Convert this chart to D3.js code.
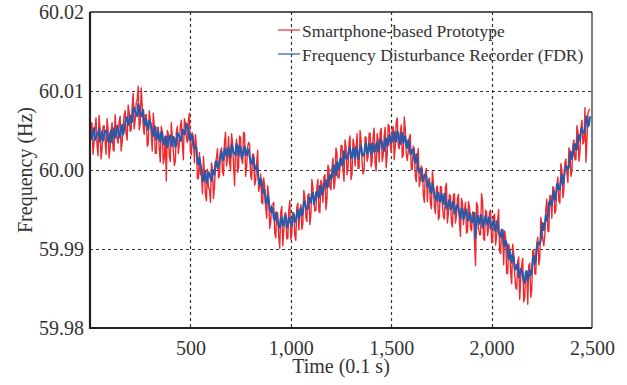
<!DOCTYPE html>
<html>
<head>
<meta charset="utf-8">
<script src="https://cdn.jsdelivr.net/npm/d3@7"></script>
<style>
html,body{margin:0;padding:0;background:#fff;}
svg{display:block;}
text{font-family:"Liberation Serif","Times New Roman",serif;fill:#333;}
</style>
</head>
<body>
<svg id="chart" width="627" height="385"></svg>
<script>
// ---- data ----
const sampleStep = 5; // time between plotted samples, in 0.1 s
const xTicks = [500, 1000, 1500, 2000, 2500];
const xTickLabels = ["500", "1,000", "1,500", "2,000", "2,500"];
const yTicks = [59.98, 59.99, 60.00, 60.01, 60.02];
const yTickLabels = ["59.98", "59.99", "60.00", "60.01", "60.02"];
const seriesNames = ["Smartphone-based Prototype", "Frequency Disturbance Recorder (FDR)"];

const prototypeHz = [
60.0024,60.006,60.0059,60.002,60.0034,60.0052,60.0066,60.0032,60.0018,60.0069,
60.0052,60.0014,60.0027,60.0055,60.0056,60.0038,60.002,60.0065,60.0052,60.0015,
60.0028,60.0049,60.006,60.0026,60.0024,60.007,60.0052,60.0039,60.0034,60.0061,
60.0068,60.0024,60.0035,60.0055,60.0069,60.0075,60.0046,60.0038,60.0082,60.0073,
60.0049,60.0051,60.008,60.0097,60.0052,60.0063,60.0085,60.0089,60.0106,60.0051,
60.0058,60.0104,60.0081,60.0055,60.0045,60.007,60.007,60.003,60.0033,60.0075,
60.0064,60.0047,60.0024,60.0072,60.0056,60.0021,60.0021,60.0054,60.0054,60.0026,
60.001,60.0055,60.0049,60.0008,60.0015,60.0043,59.9986,60.005,60.0046,60.0017,
60.0011,60.006,60.0042,60.0025,60.0006,60.0011,60.0048,60.0055,60.0021,60.0034,
60.0056,60.0063,60.0032,60.0013,60.0065,60.0059,60.004,60.0035,60.0062,60.0072,
60.0023,60.0019,60.0047,60.004,60.0009,60.0045,60.0031,59.9989,59.9989,60.0022,
59.9994,59.9994,59.997,60.0017,59.9995,59.9968,59.9961,60.0001,59.9978,59.9975,
59.9959,60.0009,60.0002,59.9964,59.9979,60.0009,60.0016,60.0027,59.999,59.9993,
60.0024,60.0028,59.9997,59.9993,60.0036,60.0048,60.0005,60.0014,60.0042,60.001,
59.9999,60.0046,60.0034,60.0005,59.998,60.0029,60.0039,59.9997,60.0003,60.0043,
60.0041,60.0014,60.0008,60.0048,60.0046,59.9992,60.0004,60.0029,60.0035,60.0032,
59.9993,59.9988,60.002,60.002,59.9981,59.9986,60.0009,60.0025,59.9973,59.9979,
59.9995,59.9959,59.9957,59.999,59.9978,59.9953,59.9939,59.998,59.9968,59.9926,
59.9934,59.9955,59.9956,59.9959,59.992,59.9914,59.9947,59.9945,59.9915,59.9901,
59.9947,59.9954,59.9904,59.9923,59.9944,59.9946,59.9913,59.9913,59.9949,59.9961,
59.9912,59.9919,59.9946,59.9946,59.9917,59.9911,59.9953,59.9958,59.9924,59.9948,
59.9956,59.9925,59.9932,59.9974,59.9965,59.994,59.9935,59.9968,59.997,59.9931,
59.9943,59.9988,59.9978,59.9959,59.9948,59.9949,59.9979,59.9988,59.9948,59.9946,
59.9987,59.9983,59.9959,59.9991,59.9994,59.995,59.9962,60.0006,60.0001,59.9978,
59.9975,60.0002,60.0015,59.9976,59.9985,60.0028,60.0021,59.999,59.999,60.0003,
60.0031,60.0031,59.9999,59.9986,60.0038,60.003,59.9994,60.0003,60.0036,60.0043,
59.9988,59.9995,60.0039,60.0032,60.0005,60.0027,60.0046,60.0002,60.0002,60.005,
60.0038,60.001,59.9995,59.9999,60.0042,60.0041,60.0011,60.0017,60.0046,60.0047,
60.0004,60.0011,60.0043,60.0053,60.0009,59.9999,60.0046,60.0038,60.001,60.0048,
60.0053,60.0011,60.0018,60.0043,60.0054,60.0003,60.0019,60.0058,60.0055,60.0031,
60.0023,60.0053,60.0055,60.0013,60.0029,60.0061,60.0066,60.0031,60.0027,60.0047,
60.0057,60.0016,60.0019,60.0067,60.0052,60.0021,60.0012,60.0024,60.0041,60.0045,
60.0001,60.0001,60.003,60.0027,59.9992,59.9985,60.0017,60.0027,59.9979,59.9987,
60.0005,60.0001,59.9969,59.9959,59.9996,60.0002,59.996,59.9986,59.999,59.9958,
59.9951,59.9998,59.9985,59.9954,59.9945,59.9977,59.998,59.9937,59.9941,59.9979,
59.9979,59.9956,59.9941,59.9938,59.9978,59.9983,59.9933,59.9946,59.9969,59.9967,
59.9933,59.9928,59.9969,59.997,59.9933,59.9942,59.9964,59.9969,59.9933,59.9916,
59.9964,59.9958,59.9931,59.9949,59.9959,59.992,59.9922,59.996,59.9953,59.9926,
59.9923,59.9947,59.9946,59.9908,59.9879,59.9959,59.9955,59.9926,59.9918,59.9918,
59.997,59.996,59.9913,59.9911,59.9949,59.9947,59.9917,59.9927,59.9947,59.9949,
59.9908,59.9909,59.9941,59.9944,59.9905,59.9917,59.9936,59.995,59.9897,59.9894,
59.9925,59.9923,59.988,59.9923,59.9915,59.9869,59.9869,59.9906,59.99,59.9871,
59.9856,59.9906,59.9894,59.9869,59.9851,59.9849,59.9884,59.989,59.9836,59.9861,
59.988,59.9888,59.9833,59.9839,59.9872,59.987,59.983,59.9879,59.9882,59.9839,
59.9848,59.9898,59.9899,59.9869,59.9868,59.9907,59.9915,59.988,59.9888,59.994,
59.993,59.9913,59.9904,59.9917,59.995,59.9963,59.9923,59.9922,59.9967,59.9968,
59.9939,59.9979,59.9977,59.9945,59.9949,59.9981,59.9991,59.9961,59.9958,60.0008,
60,59.9965,59.9974,60.0009,60.0014,59.9995,59.9984,60.0028,60.0024,59.9992,
59.9999,60.0032,60.0038,60.0013,60.0013,60.0056,60.0049,60.0011,60.0023,60.0053,
60.0063,60.0033,60.0036,60.0079,60.001,60.0039,60.0072,60.0076,60.0077
];

const fdrHz = [
60.005,60.0042,60.0039,60.0051,60.0053,60.0038,60.0041,60.0045,60.0046,60.0052,
60.0036,60.004,60.0049,60.0037,60.0043,60.0049,60.005,60.0046,60.0037,60.0035,
60.0046,60.005,60.0035,60.0044,60.0053,60.0041,60.0044,60.0056,60.0051,60.0045,
60.0041,60.0054,60.0057,60.0045,60.005,60.0059,60.0065,60.0067,60.0057,60.0058,
60.0069,60.006,60.0061,60.0077,60.0079,60.0073,60.0071,60.0068,60.0084,60.0079,
60.0069,60.0068,60.0073,60.0076,60.0058,60.0057,60.0065,60.0056,60.0051,60.0062,
60.0061,60.0055,60.0047,60.0043,60.0052,60.0055,60.0038,60.0041,60.0049,60.0041,
60.0036,60.0048,60.0047,60.0034,60.0032,60.0042,60.0042,60.0029,60.0032,60.0042,
60.0044,60.0034,60.003,60.0042,60.004,60.0029,60.0033,60.0047,60.0045,60.0043,
60.0037,60.0037,60.0051,60.005,60.0045,60.0047,60.0059,60.0056,60.0051,60.0038,
60.0038,60.0045,60.0043,60.003,60.0027,60.0029,60.0028,60.0009,60.0007,60.0016,
60.0008,60.0001,59.9989,59.9986,59.9994,59.9998,59.9984,59.9988,59.9997,59.9996,
59.9989,59.9986,60,59.9999,59.9994,60.001,60.0011,60.0002,60.0005,60.001,
60.002,60.0023,60.0014,60.0012,60.0028,60.0022,60.0018,60.0027,60.0028,60.0017,
60.0016,60.0033,60.0029,60.0022,60.0021,60.0019,60.0033,60.0029,60.0018,60.0031,
60.0028,60.0015,60.0018,60.0025,60.003,60.0019,60.0019,60.0027,60.0025,60.0017,
60.0009,60.0008,60.0015,60.0016,60.0001,60.0001,60.0006,59.9999,59.9987,59.9981,
59.9989,59.9986,59.9971,59.9974,59.9975,59.9958,59.9958,59.9968,59.9963,59.995,
59.9947,59.9953,59.9951,59.9938,59.9936,59.9946,59.9942,59.9935,59.9929,59.9927,
59.9939,59.994,59.9929,59.9931,59.9941,59.9942,59.9927,59.9929,59.994,59.9937,
59.9932,59.9929,59.9945,59.9943,59.9934,59.9936,59.9945,59.9949,59.9938,59.9947,
59.9952,59.9942,59.9946,59.996,59.996,59.9953,59.995,59.9951,59.9965,59.9964,
59.9959,59.997,59.9971,59.9957,59.9962,59.9971,59.9973,59.9967,59.9965,59.998,
59.998,59.9969,59.9971,59.9978,59.9984,59.9987,59.9978,59.9979,59.9992,59.9994,
59.9988,59.9991,60.0003,60.0006,59.9996,59.9993,60.001,60.0007,60.0001,60.0013,
60.0015,60.0006,60.0007,60.0024,60.002,60.0015,60.0014,60.0019,60.0027,60.0028,
60.0016,60.0015,60.0027,60.0023,60.0014,60.0029,60.0027,60.0014,60.0018,60.0027,
60.0031,60.0021,60.0018,60.0019,60.003,60.0034,60.0021,60.0022,60.0033,60.0027,
60.002,60.0034,60.0032,60.0023,60.0024,60.0032,60.0035,60.0023,60.0025,60.0039,
60.0038,60.0034,60.0028,60.0024,60.004,60.004,60.003,60.0033,60.0044,60.0043,
60.0034,60.0037,60.0045,60.0048,60.0036,60.0036,60.0049,60.0046,60.0037,60.0033,
60.0046,60.0047,60.0034,60.004,60.0043,60.0031,60.0028,60.0038,60.0034,60.002,
60.0021,60.0026,60.0026,60.0013,60.0009,60.002,60.0013,59.9999,59.9997,60.0002,
60.0001,59.9986,59.9986,59.9994,59.9993,59.9992,59.998,59.9979,59.9985,59.9973,
59.9971,59.9983,59.9977,59.9969,59.9965,59.9961,59.9972,59.9971,59.9961,59.996,
59.997,59.9965,59.9957,59.997,59.9966,59.9951,59.9953,59.9959,59.9962,59.995,
59.9951,59.9959,59.996,59.9945,59.9946,59.9954,59.9956,59.9951,59.9944,59.9938,
59.9951,59.9951,59.9938,59.9943,59.9947,59.995,59.9936,59.9936,59.9946,59.9943,
59.9934,59.9934,59.994,59.9946,59.9914,59.9931,59.9942,59.9937,59.9932,59.9943,
59.9942,59.9927,59.993,59.9938,59.9942,59.9933,59.9931,59.994,59.994,59.9926,
59.9928,59.9934,59.9936,59.9925,59.9923,59.9935,59.9932,59.9921,59.9918,59.9915,
59.9924,59.9924,59.9906,59.9904,59.991,59.9907,59.9894,59.9887,59.9898,59.9891,
59.9883,59.9893,59.989,59.9875,59.9874,59.988,59.9881,59.9864,59.9866,59.9875,
59.9873,59.9868,59.9859,59.9857,59.987,59.9872,59.986,59.9865,59.9873,59.9867,
59.9871,59.9886,59.9891,59.9881,59.9889,59.9902,59.9908,59.9908,59.9906,59.9911,
59.9926,59.9933,59.9924,59.993,59.9943,59.9936,59.9941,59.9958,59.9961,59.9956,
59.9956,59.9967,59.9973,59.9962,59.9967,59.9982,59.9982,59.9975,59.9976,59.9987,
59.9994,59.9982,59.9989,60.0003,60.0005,60.0004,60,60.0004,60.0018,60.0023,
60.0014,60.0019,60.0031,60.0033,60.0026,60.0026,60.0043,60.0044,60.0037,60.0051,
60.0053,60.0048,60.0047,60.0048,60.0063,60.0068,60.0055,60.0057,60.0068
];

// ---- layout ----
const W = 627, H = 385;
const m = {left: 90, right: 35, top: 12, bottom: 57};
const pw = W - m.left - m.right, ph = H - m.top - m.bottom;

const svg = d3.select("#chart");
const g = svg.append("g").attr("transform", `translate(${m.left},${m.top})`);

const x = d3.scaleLinear().domain([0, 2500]).range([0, pw]);
const y = d3.scaleLinear().domain([59.98, 60.02]).range([ph, 0]);

// grid
g.append("g").selectAll("line").data(xTicks.slice(0, -1)).join("line")
  .attr("x1", d => Math.round(x(d)) + 0.5).attr("x2", d => Math.round(x(d)) + 0.5)
  .attr("y1", 0).attr("y2", ph)
  .attr("stroke", "#333").attr("stroke-width", 1.2).attr("stroke-dasharray", "3,3");
g.append("g").selectAll("line").data(yTicks.slice(1, -1)).join("line")
  .attr("y1", d => Math.round(y(d)) + 0.5).attr("y2", d => Math.round(y(d)) + 0.5)
  .attr("x1", 0).attr("x2", pw)
  .attr("stroke", "#333").attr("stroke-width", 1.2).attr("stroke-dasharray", "3,3");

// lines
const line = d3.line().x((d, i) => x(i * sampleStep)).y(d => y(d));
g.append("path").datum(prototypeHz).attr("d", line)
  .attr("fill", "none").attr("stroke", "#ef2a2e").attr("stroke-width", 1.4).attr("stroke-linejoin", "round");
g.append("path").datum(fdrHz).attr("d", line)
  .attr("fill", "none").attr("stroke", "#2b58a8").attr("stroke-width", 2).attr("stroke-linejoin", "round");

// frame
g.append("line").attr("x1", 0).attr("x2", pw).attr("y1", 0).attr("y2", 0).attr("stroke", "#222").attr("stroke-width", 1.5);
g.append("line").attr("x1", pw).attr("x2", pw).attr("y1", 0).attr("y2", ph).attr("stroke", "#222").attr("stroke-width", 1.2);
g.append("line").attr("x1", 0).attr("x2", 0).attr("y1", 0).attr("y2", ph + 1).attr("stroke", "#222").attr("stroke-width", 2.2);
g.append("line").attr("x1", -1).attr("x2", pw).attr("y1", ph).attr("y2", ph).attr("stroke", "#222").attr("stroke-width", 2.2);

// axes via d3
const xAxis = d3.axisBottom(x).tickValues(xTicks).tickSize(0).tickPadding(13)
  .tickFormat((d, i) => xTickLabels[i]);
const gx = g.append("g").attr("transform", `translate(0,${ph})`).call(xAxis);
gx.select(".domain").remove();
gx.selectAll("text").attr("font-size", 20).attr("font-family", "Liberation Serif").attr("fill", "#333");

const yAxis = d3.axisLeft(y).tickValues(yTicks).tickSize(0).tickPadding(6)
  .tickFormat((d, i) => yTickLabels[i]);
const gy = g.append("g").call(yAxis);
gy.select(".domain").remove();
gy.selectAll("text").attr("font-size", 20).attr("font-family", "Liberation Serif").attr("fill", "#333");

// axis titles
svg.append("text").attr("x", m.left + pw / 2).attr("y", 373).attr("text-anchor", "middle")
  .attr("font-size", 20).text("Time (0.1 s)");
svg.append("text").attr("transform", `translate(32,${m.top + ph / 2}) rotate(-90)`)
  .attr("text-anchor", "middle").attr("font-size", 20).text("Frequency (Hz)");

// legend
const legColors = ["#ef2a2e", "#2b58a8"];
const leg = svg.append("g");
seriesNames.forEach((name, i) => {
  const ly = 30 + i * 24;
  leg.append("line").attr("x1", 278).attr("x2", 300).attr("y1", ly).attr("y2", ly)
    .attr("stroke", legColors[i]).attr("stroke-width", 1.2);
  leg.append("text").attr("x", 302).attr("y", ly + 7).attr("font-size", 17.5).text(name);
});
</script>
</body>
</html>
